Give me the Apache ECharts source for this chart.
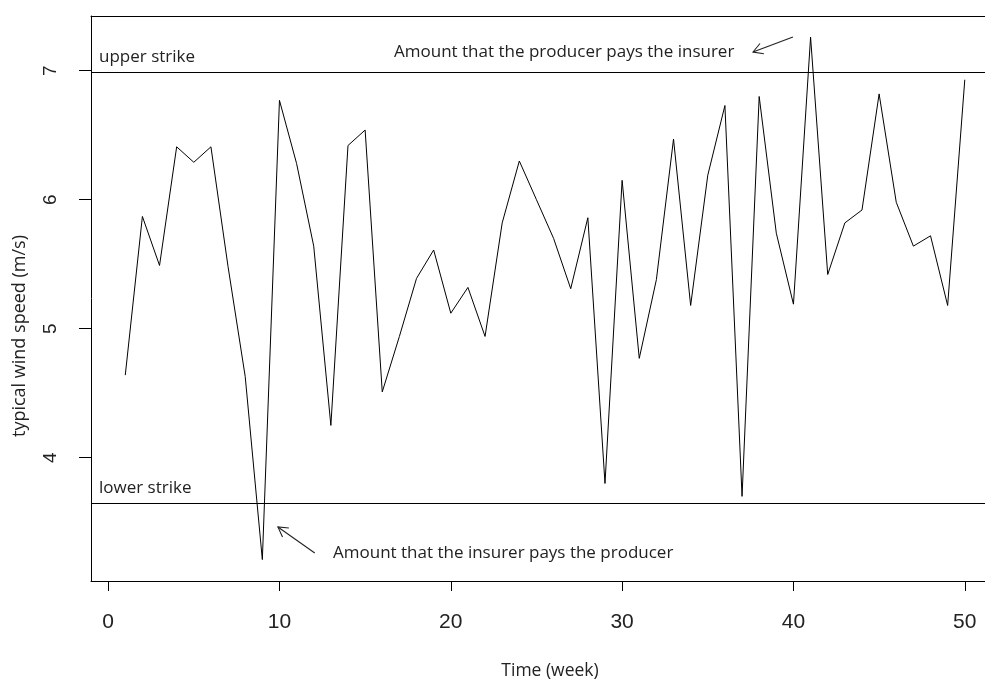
<!DOCTYPE html>
<html>
<head>
<meta charset="utf-8">
<script src="https://cdn.jsdelivr.net/npm/echarts@6/dist/echarts.min.js"></script>
<style>
  html, body { margin: 0; padding: 0; background: #fff; }
  #chart { width: 985px; height: 680px; }
</style>
</head>
<body>
<div id="chart"></div>
<script>
// ---- data ----
const weeks = [1,2,3,4,5,6,7,8,9,10,11,12,13,14,15,16,17,18,19,20,21,22,23,24,25,26,27,28,29,30,31,32,33,34,35,36,37,38,39,40,41,42,43,44,45,46,47,48,49,50];
const windSpeed = [4.64,5.87,5.49,6.41,6.29,6.41,5.48,4.63,3.21,6.77,6.28,5.64,4.25,6.42,6.54,4.51,4.94,5.39,5.61,5.12,5.32,4.94,5.82,6.30,6.00,5.70,5.31,5.86,3.80,6.15,4.77,5.38,6.47,5.18,6.19,6.73,3.70,6.80,5.74,5.19,7.26,5.42,5.82,5.92,6.82,5.98,5.64,5.72,5.18,6.93];
const upperStrike = 6.99;
const lowerStrike = 3.65;
const xTicks = [0,10,20,30,40,50];
const yTicks = [4,5,6,7];
const xRange = [-1.0, 51.18];
const yRange = [3.044, 7.424];
const upperArrow = [[39.97, 7.261], [37.64, 7.145]]; // tail, head
const lowerArrow = [[12.06, 3.261], [9.91, 3.463]];

const chart = echarts.init(document.getElementById('chart'), null, { renderer: 'canvas' });

const annFont = '"Open Sans", "Liberation Sans", sans-serif';
const tickFont = '"Liberation Sans", Arial, sans-serif';
const frameLine = { show: true, onZero: false, lineStyle: { color: '#000', width: 1 } };

const option = {
  animation: false,
  backgroundColor: '#ffffff',
  grid: { left: 91, top: 16, right: 0, bottom: 99, show: false },
  xAxis: [{
    type: 'value', min: xRange[0], max: xRange[1], position: 'bottom',
    axisLine: frameLine,
    splitLine: { show: false },
    axisTick: { show: true, customValues: xTicks, length: 10, inside: false, lineStyle: { color: '#000', width: 1 } },
    axisLabel: { customValues: xTicks, fontSize: 21, color: '#222', fontFamily: tickFont, margin: 31 }
  }, {
    type: 'value', min: xRange[0], max: xRange[1], position: 'top',
    axisLine: frameLine,
    splitLine: { show: false }, axisTick: { show: false }, axisLabel: { show: false }
  }],
  yAxis: {
    type: 'value', min: yRange[0], max: yRange[1],
    axisLine: frameLine,
    splitLine: { show: false },
    axisTick: { show: true, customValues: yTicks, length: 12, lineStyle: { color: '#000', width: 1 } },
    axisLabel: { customValues: yTicks, fontSize: 19, color: '#222', fontFamily: tickFont, rotate: 90, margin: 31 }
  },
  series: [{
    type: 'line',
    data: weeks.map((w, i) => [w, windSpeed[i]]),
    showSymbol: false,
    symbol: 'none',
    lineStyle: { color: '#000', width: 1 },
    markLine: {
      silent: true, symbol: ['none', 'none'],
      label: { show: false },
      lineStyle: { color: '#000', width: 1, type: 'solid' },
      data: [{ yAxis: upperStrike }, { yAxis: lowerStrike }]
    }
  }]
};
chart.setOption(option);

function arrowGraphic(pts) {
  const a = chart.convertToPixel({ gridIndex: 0 }, pts[0]);
  const b = chart.convertToPixel({ gridIndex: 0 }, pts[1]);
  const ang = Math.atan2(a[1] - b[1], a[0] - b[0]);
  const L = 11, spread = Math.PI / 6;
  const p1 = [b[0] + L * Math.cos(ang + spread), b[1] + L * Math.sin(ang + spread)];
  const p2 = [b[0] + L * Math.cos(ang - spread), b[1] + L * Math.sin(ang - spread)];
  return [
    { type: 'line', shape: { x1: a[0], y1: a[1], x2: b[0], y2: b[1] }, style: { stroke: '#222', lineWidth: 1.1 } },
    { type: 'polyline', shape: { points: [p1, b, p2] }, style: { stroke: '#222', lineWidth: 1.1, fill: null } }
  ];
}

const textStyle = (t, x, y, size, align) => ({
  type: 'text', x: x, y: y,
  style: { text: t, fill: '#222', font: size + 'px ' + annFont, textAlign: align || 'left', textVerticalAlign: 'middle' }
});

const upperY = chart.convertToPixel({ gridIndex: 0 }, [0, upperStrike])[1];
const lowerY = chart.convertToPixel({ gridIndex: 0 }, [0, lowerStrike])[1];

chart.setOption({
  graphic: [
    textStyle('upper strike', 99, upperY - 15, 17),
    textStyle('lower strike', 99, lowerY - 15, 17),
    textStyle('Amount that the producer pays the insurer', 394, 52, 17),
    textStyle('Amount that the insurer pays the producer', 333, 553, 17),
    textStyle('Time (week)', 550, 671, 17.5, 'center'),
    { type: 'text', x: 20, y: 336, rotation: Math.PI / 2,
      style: { text: 'typical wind speed (m/s)', fill: '#222', font: '18px ' + annFont, textAlign: 'center', textVerticalAlign: 'middle' } }
  ].concat(arrowGraphic(upperArrow), arrowGraphic(lowerArrow))
});
</script>
</body>
</html>
